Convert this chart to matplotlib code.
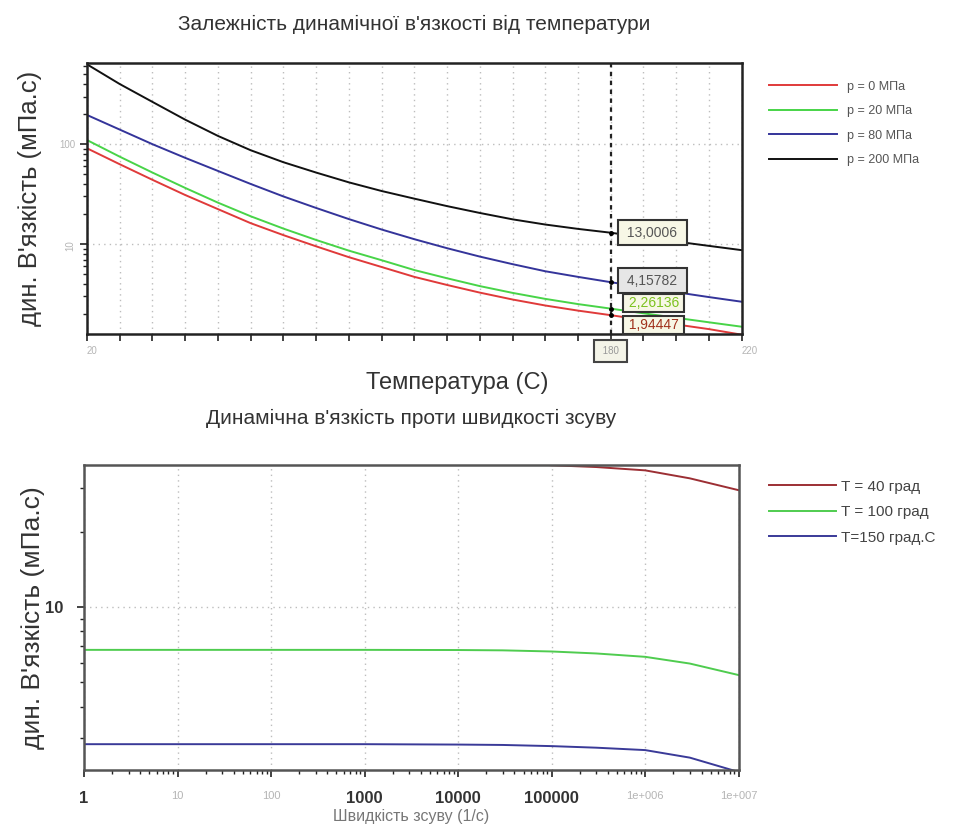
import numpy as np
import matplotlib.pyplot as plt

plt.rcParams['font.family'] = ['Liberation Sans', 'DejaVu Sans']

# --- top chart: dynamic viscosity vs temperature, four pressures ---
temperature = [20, 30, 40, 50, 60, 70, 80, 90, 100, 110, 120,
               130, 140, 150, 160, 170, 180, 190, 200, 210, 220]
visc_p0 = [91, 63, 44, 31, 22.4, 16.2, 12.3, 9.5, 7.4, 5.9, 4.7,
           3.9, 3.27, 2.79, 2.43, 2.16, 1.94447, 1.74, 1.57, 1.41, 1.24]
visc_p20 = [110, 75, 52, 36.5, 26, 19, 14.3, 11.0, 8.6, 6.9, 5.5,
            4.55, 3.8, 3.25, 2.83, 2.51, 2.26136, 2.03, 1.83, 1.65, 1.49]
visc_p80 = [196, 140, 100, 73, 54, 40, 30, 23, 17.8, 14.0, 11.2,
            9.1, 7.5, 6.3, 5.35, 4.7, 4.15782, 3.7, 3.3, 2.95, 2.65]
visc_p200 = [630, 400, 265, 176, 121, 87, 66, 52, 41.5, 34, 28.5,
             24, 20.5, 17.7, 15.7, 14.2, 13.0006, 11.7, 10.6, 9.6, 8.7]
pressure_labels = ['p = 0 МПа', 'p = 20 МПа', 'p = 80 МПа', 'p = 200 МПа']
marked_temp = 180

# --- bottom chart: dynamic viscosity vs shear rate, three temperatures ---
shear_rate = [1, 10, 100, 1e3, 1e4, 3e4, 1e5, 3e5, 1e6, 3e6, 1e7]
visc_t40 = [39.5, 39.5, 39.5, 39.5, 39.3, 38.5, 37.0, 36.4, 35.3, 32.8, 29.4]
visc_t100 = [6.75, 6.75, 6.75, 6.75, 6.74, 6.72, 6.65, 6.53, 6.33, 5.95, 5.35]
visc_t150 = [2.83, 2.83, 2.83, 2.83, 2.82, 2.81, 2.78, 2.74, 2.68, 2.5, 2.19]
temp_labels = ['T = 40 град', 'T = 100 град', 'T=150 град.С']
shear_ticklabels = ['1', '10', '100', '1000', '10000', '100000', '1e+006', '1e+007']
faint_ticks = [1, 2, 6, 7]

grid_kw = dict(color='#bdbdbd', ls=(0, (1, 3)), lw=1.0)
faint = '#b5b5b5'

fig = plt.figure(figsize=(9.6, 8.35), dpi=100)

# ---------------- top ----------------
ax1 = fig.add_axes([0.0906, 0.600, 0.682, 0.3246])
top_colors = ['#e03a3a', '#48d448', '#34349a', '#111111']
for vals, col, lab in zip([visc_p0, visc_p20, visc_p80, visc_p200], top_colors, pressure_labels):
    ax1.plot(temperature, vals, color=col, lw=1.4, label=lab)

ax1.set_yscale('log')
ax1.set_xlim(20, 220)
ax1.set_ylim(1.26, 650)
ax1.set_xticks(temperature)
ax1.set_xticklabels(['20' if t == 20 else '220' if t == 220 else '' for t in temperature],
                    fontsize=7, color=faint)
for lbl in ax1.xaxis.get_ticklabels():
    lbl.set_horizontalalignment('left')
ax1.set_yticks([10, 100])
ax1.set_yticklabels(['10', '100'], fontsize=7, color=faint)
ax1.yaxis.get_ticklabels()[0].set_rotation(90)
ax1.tick_params(axis='both', which='major', length=5, width=1.2, color='#222222')
ax1.tick_params(axis='y', which='minor', length=3, width=1.0, color='#222222')
ax1.yaxis.set_minor_formatter(plt.NullFormatter())
ax1.grid(True, which='major', **grid_kw)
for s in ax1.spines.values():
    s.set_linewidth(1.8)
    s.set_color('#222222')

ax1.axvline(marked_temp, color='#222222', ls=(0, (2, 2)), lw=1.6)
idx = temperature.index(marked_temp)
marked = [visc_p200[idx], visc_p80[idx], visc_p20[idx], visc_p0[idx]]
ax1.plot([marked_temp] * 4, marked, 'k.', ms=5)


def fmt(v, digits):
    return f' {v:.{digits}f} '.replace('.', ',')


box_cream = dict(boxstyle='square,pad=0.4', fc='#f7f7e6', ec='#333333', lw=1.5)
box_grey = dict(boxstyle='square,pad=0.4', fc='#e6e6e6', ec='#333333', lw=1.5)
box_small = dict(boxstyle='square,pad=0.12', fc='#f7f7e6', ec='#333333', lw=1.5)
ax1.annotate(fmt(visc_p200[idx], 4), (marked_temp, visc_p200[idx]),
             xytext=(9, 0), textcoords='offset points', va='center', ha='left',
             fontsize=10, color='#555555', bbox=box_cream)
ax1.annotate(fmt(visc_p80[idx], 5), (marked_temp, visc_p80[idx]),
             xytext=(9, 1), textcoords='offset points', va='center', ha='left',
             fontsize=10, color='#555555', bbox=box_grey)
ax1.annotate(fmt(visc_p20[idx], 5), (marked_temp, visc_p20[idx]),
             xytext=(10, 4), textcoords='offset points', va='center', ha='left',
             fontsize=10, color='#7cc21e', bbox=box_small)
ax1.annotate(fmt(visc_p0[idx], 5), (marked_temp, visc_p0[idx]),
             xytext=(10, -7), textcoords='offset points', va='center', ha='left',
             fontsize=10, color='#a0301c', bbox=box_small)
ax1.text(marked_temp, -0.045, f' {marked_temp} ', transform=ax1.get_xaxis_transform(),
         ha='center', va='top', fontsize=7, color='#999999',
         bbox=dict(boxstyle='square,pad=0.6', fc='#f4f4e8', ec='#444444', lw=1.5))

ax1.set_xlabel('Температура (С)', fontsize=17, color='#333333', labelpad=12, x=0.565)
ax1.set_ylabel("дин. В'язкість (мПа.с)", fontsize=18.5, color='#333333', labelpad=12)
ax1.set_title("Залежність динамічної в'язкості від температури",
              fontsize=15, color='#333333', pad=24, x=0.5)
fig.legend(*ax1.get_legend_handles_labels(), loc='upper left',
           bbox_to_anchor=(0.789, 0.917), frameon=False, fontsize=9,
           handlelength=5.5, handletextpad=0.8, labelspacing=1.0,
           labelcolor='#555555')

# ---------------- bottom ----------------
ax2 = fig.add_axes([0.0875, 0.0778, 0.682, 0.365])
bot_colors = ['#9c2f34', '#4fcc4f', '#3a3a98']
for vals, col, lab in zip([visc_t40, visc_t100, visc_t150], bot_colors, temp_labels):
    ax2.plot(shear_rate, vals, color=col, lw=1.4, label=lab)

ax2.set_xscale('log')
ax2.set_yscale('log')
ax2.set_xlim(1, 1e7)
ax2.set_ylim(2.23, 37)
ax2.set_xticks([10 ** k for k in range(8)])
ax2.set_xticklabels(shear_ticklabels, fontsize=12, fontweight='bold', color='#333333')
for k in faint_ticks:
    lbl = ax2.xaxis.get_ticklabels()[k]
    lbl.set_color(faint)
    lbl.set_fontweight('normal')
    lbl.set_fontsize(8)
ax2.set_yticks([10])
ax2.set_yticklabels(['10'], fontsize=12, fontweight='bold', color='#333333')
ax2.yaxis.set_minor_formatter(plt.NullFormatter())
ax2.xaxis.set_minor_formatter(plt.NullFormatter())
ax2.tick_params(axis='both', which='major', length=5, width=1.2, color='#222222', pad=10)
ax2.tick_params(axis='both', which='minor', length=3, width=1.0, color='#222222')
ax2.grid(True, which='major', **grid_kw)
for s in ax2.spines.values():
    s.set_linewidth(1.8)
    s.set_color('#555555')

ax2.set_xlabel('Швидкість зсуву (1/с)', fontsize=11.5, color='#777777', labelpad=2)
ax2.set_ylabel("дин. В'язкість (мПа.с)", fontsize=19, color='#333333', labelpad=0)
ax2.set_title("Динамічна в'язкість проти швидкості зсуву",
              fontsize=15, color='#333333', pad=30, x=0.5)
fig.legend(*ax2.get_legend_handles_labels(), loc='upper left',
           bbox_to_anchor=(0.787, 0.442), frameon=False, fontsize=11,
           handlelength=4.4, handletextpad=0.3, labelspacing=0.75,
           labelcolor='#444444')

fig.savefig('out.png', dpi=100)
